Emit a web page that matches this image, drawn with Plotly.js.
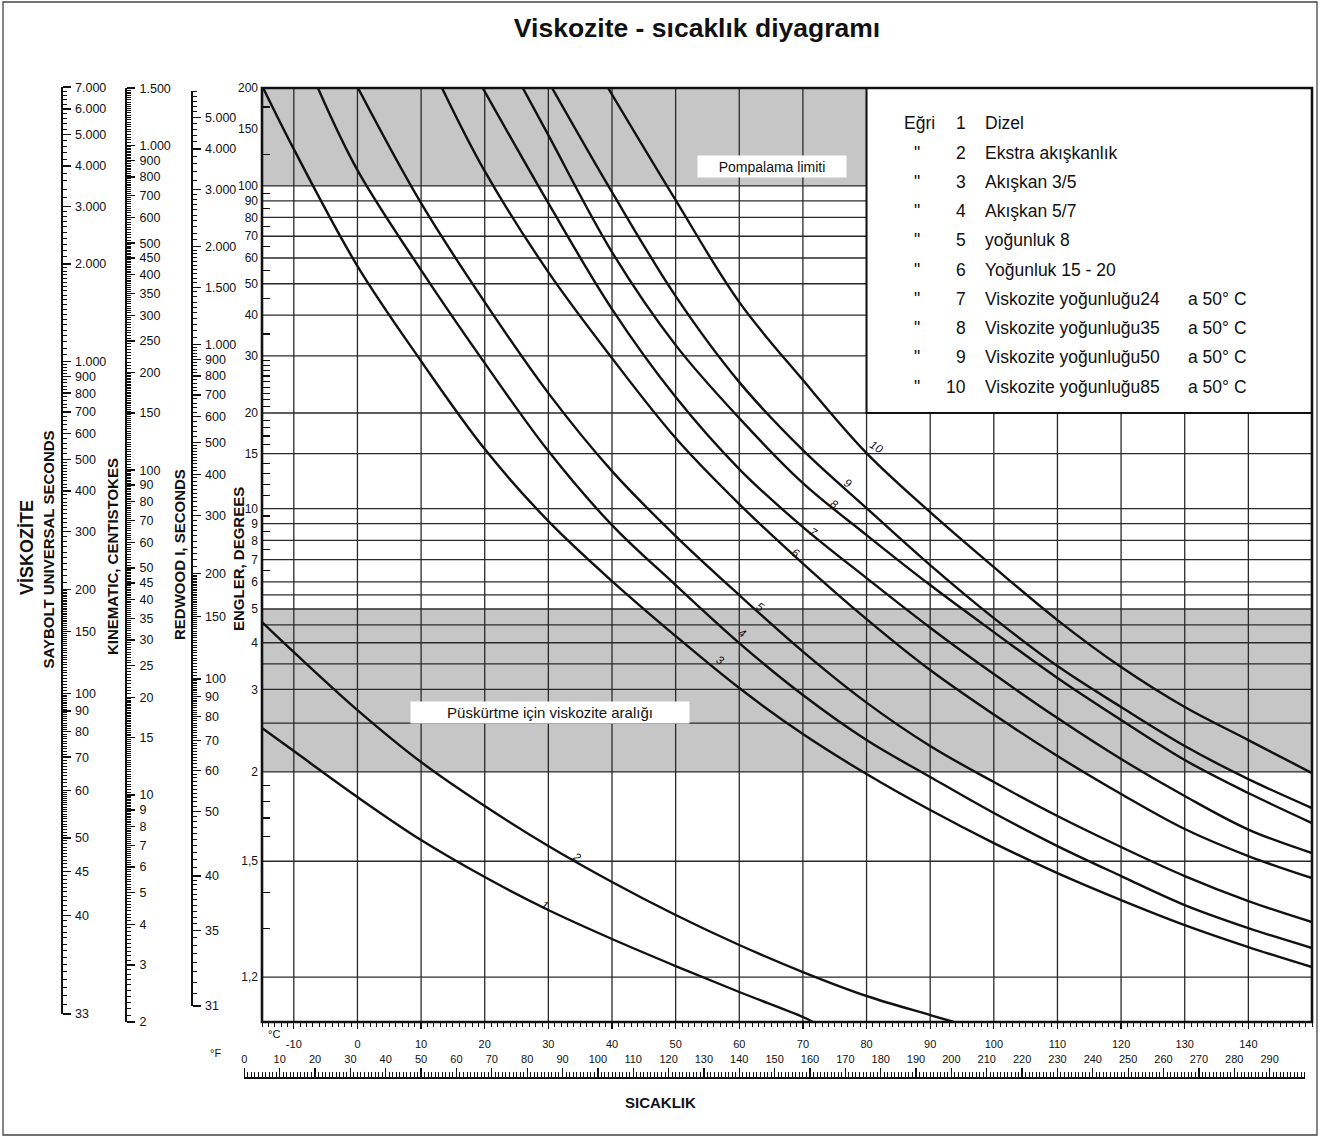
<!DOCTYPE html>
<html>
<head>
<meta charset="utf-8">
<script src="https://cdn.plot.ly/plotly-3.0.1.min.js"></script>
<style>
html,body{margin:0;padding:0;background:#fff;}
#chart{width:1320px;height:1137px;}
</style>
</head>
<body>
<div id="chart"></div>
<script>
// ---------------- DATA ----------------
// Curves: temperature (°C) and kinematic viscosity (cSt)
const CURVE1_TEMP = [-15, -10, 0, 10, 20, 30, 40, 50, 60, 70, 71.6];
const CURVE1_CST  = [16.07, 13.65, 9.855, 7.265, 5.589, 4.424, 3.602, 2.974, 2.474, 2.072, 2.0];
const CURVE2_TEMP = [-15, -10, 0, 10, 20, 30, 40, 50, 60, 70, 80, 90, 93.7];
const CURVE2_CST  = [34.07, 27.54, 18.26, 12.63, 9.245, 6.962, 5.395, 4.270, 3.452, 2.850, 2.405, 2.101, 2.0];
const CURVE3_TEMP = [-14.8, -10, 0, 10, 20, 30, 40, 50, 60, 70, 80, 90, 100, 110, 120, 130, 140, 150];
const CURVE3_CST  = [1500, 973.5, 424.9, 216.7, 116.1, 69.69, 45.56, 30.85, 21.34, 15.40, 11.60, 8.987, 7.112, 5.750, 4.749, 3.977, 3.403, 2.953];
const CURVE4_TEMP = [-6.2, 0, 10, 20, 30, 40, 50, 60, 70, 80, 90, 100, 110, 120, 130, 140, 150];
const CURVE4_CST  = [1500, 838.9, 413.0, 213.6, 114.5, 67.74, 44.29, 29.36, 20.31, 14.76, 11.36, 8.798, 6.962, 5.629, 4.583, 3.893, 3.379];
const CURVE5_TEMP = [0.1, 10, 20, 30, 40, 50, 60, 70, 80, 90, 100, 110, 120, 130, 140, 150];
const CURVE5_CST  = [1500, 663.8, 329.2, 172.7, 99.35, 62.67, 41.25, 27.64, 19.25, 14.15, 10.96, 8.612, 6.914, 5.629, 4.715, 4.063];
const CURVE6_TEMP = [13.3, 20, 30, 40, 50, 60, 70, 80, 90, 100, 110, 120, 130, 140, 150];
const CURVE6_CST  = [1500, 833.0, 407.2, 221.3, 125.6, 78.63, 51.58, 34.79, 24.24, 17.68, 13.18, 10.07, 7.855, 6.486, 5.550];
const CURVE7_TEMP = [19.7, 30, 40, 50, 60, 70, 80, 90, 100, 110, 120, 130, 140, 150];
const CURVE7_CST  = [1500, 663.8, 313.3, 167.9, 100.8, 66.79, 46.54, 32.74, 23.56, 17.25, 12.90, 9.925, 7.827, 6.626];
const CURVE8_TEMP = [26, 30, 40, 50, 60, 70, 80, 90, 100, 110, 120, 130, 140, 150];
const CURVE8_CST  = [1500, 1075, 469.3, 242.7, 144.6, 91.25, 63.12, 44.29, 31.73, 22.91, 17.01, 12.81, 10.14, 8.196];
const CURVE9_TEMP = [30.6, 40, 50, 60, 70, 80, 90, 100, 110, 120, 130, 140, 150];
const CURVE9_CST  = [1500, 717.9, 343.5, 186.7, 115.3, 76.43, 51.03, 35.04, 24.94, 18.65, 14.15, 11.19, 9.115];
const CURVE10_TEMP = [39.4, 50, 60, 70, 80, 90, 100, 110, 120, 130, 140, 150];
const CURVE10_CST  = [1500, 678.1, 329.2, 189.4, 112.9, 74.29, 50.31, 34.55, 24.76, 18.65, 14.76, 11.68];

// curve number labels placed along the curves (°C, cSt)
const CURVE_LABEL_TEMP = [29.5, 34.5, 57.0, 60.4, 63.3, 68.9, 71.6, 74.9, 77.1, 81.6];
const CURVE_LABEL_CST  = [4.60, 6.46, 26.1, 31.6, 38.0, 55.4, 64.7, 78.9, 91.6, 118];

// legend table
const CURVE_NUMBERS = ['1','2','3','4','5','6','7','8','9','10'];
const CURVE_NAMES = ['Dizel','Ekstra akışkanlık','Akışkan 3/5','Akışkan 5/7','yoğunluk 8','Yoğunluk 15 - 20',
  'Viskozite yoğunluğu24','Viskozite yoğunluğu35','Viskozite yoğunluğu50','Viskozite yoğunluğu85'];
const CURVE_NOTES = ['','','','','','','a 50° C','a 50° C','a 50° C','a 50° C'];

// zones in Engler degrees
const PUMP_ZONE_E = [100, 200];
const SPRAY_ZONE_E = [2, 5];

// Engler scale (main axis)
const ENGLER_LABEL_VALUES = [200,150,100,90,80,70,60,50,40,30,20,15,10,9,8,7,6,5,4,3,2,1.5,1.2];
const ENGLER_LABELS = ['200','150','100','90','80','70','60','50','40','30','20','15','10','9','8','7','6','5','4','3','2','1,5','1,2'];
const ENGLER_GRID = [100,90,80,70,60,50,40,30,20,15,10,9,8,7,6,5.5,5,4.5,4,3.5,3,2.5,2,1.5,1.2];
const ENGLER_MINOR = [175,125,95,85,75,65,55,45,35,29,28,27,26,25,24,23,22,21,19,18,17,16,14,13,12,11,9.5,8.5,7.5,6.5,1.9,1.8,1.7,1.6,1.4,1.3];
// Engler <-> cSt conversion table
const ENGLER_TABLE_E   = [1.00,1.14,1.22,1.31,1.40,1.48,1.56,1.65,1.75,1.84,2.02,2.22,2.43,2.65,2.87,3.10,3.46,4.07,4.70,5.33,6.60,7.90,9.20,10.5,13.33];
const ENGLER_TABLE_CST = [1,2,3,4,5,6,7,8,9,10,12,14,16,18,20,22,25,30,35,40,50,60,70,80,100];

// side scales
const SAYBOLT_TICKS = [7000,6000,5000,4000,3000,2000,1000,900,800,700,600,500,400,300,200,150,100,90,80,70,60,50,45,40,33];
const SAYBOLT_LABELS = ['7.000','6.000','5.000','4.000','3.000','2.000','1.000','900','800','700','600','500','400','300','200','150','100','90','80','70','60','50','45','40','33'];
const KINEMATIC_TICKS = [1500,1000,900,800,700,600,500,450,400,350,300,250,200,150,100,90,80,70,60,50,45,40,35,30,25,20,15,10,9,8,7,6,5,4,3,2];
const KINEMATIC_LABELS = ['1.500','1.000','900','800','700','600','500','450','400','350','300','250','200','150','100','90','80','70','60','50','45','40','35','30','25','20','15','10','9','8','7','6','5','4','3','2'];
const REDWOOD_TICKS = [6000,5000,4000,3000,2000,1500,1000,900,800,700,600,500,400,300,200,150,100,90,80,70,60,50,40,35,31];
const REDWOOD_LABELS = ['','5.000','4.000','3.000','2.000','1.500','1.000','900','800','700','600','500','400','300','200','150','100','90','80','70','60','50','40','35','31'];
const SAYBOLT_MINOR_SPEC = [[33,60,0.5],[60,100,1],[100,200,2],[200,500,10],[500,1000,20],[1000,2000,50],[2000,3000,100],[3000,7000,200]];
const KINEMATIC_MINOR_SPEC = [[2,10,0.1],[10,20,0.2],[20,50,0.5],[50,100,1],[100,200,2],[200,500,5],[500,1000,10],[1000,1500,20]];
const REDWOOD_MINOR_SPEC = [[31,40,0.5],[40,100,1],[100,200,2],[200,500,10],[500,1000,20],[1000,2000,50],[2000,3000,100],[3000,6000,200]];

// temperature scales
const C_TICKS = [-10,0,10,20,30,40,50,60,70,80,90,100,110,120,130,140];
const F_TICKS = [0,10,20,30,40,50,60,70,80,90,100,110,120,130,140,150,160,170,180,190,200,210,220,230,240,250,260,270,280,290];

// ---------------- LAYOUT GEOMETRY ----------------
const FONT = 'Liberation Sans, Arial, Helvetica, sans-serif';
const INK = '#111';
const W = 1320, H = 1137, ML = 20, MR = 8, MT = 80, MB = 59;
const PW = W - ML - MR, PH = H - MT - MB;
const X_MIN = -15, X_MAX = 150, Y_MIN = 2.0, Y_MAX = 1502;
const L0 = Math.log10(Y_MIN), L1 = Math.log10(Y_MAX);
const pxX = px => (px - ML) / PW;
const pxY = py => (H - MB - py) / PH;
const xDom = [pxX(262), 1];
const yDom = [pxY(1022), pxY(88)];
const domFrac = v => (Math.log10(v) - L0) / (L1 - L0);
const cstToFrac = v => yDom[0] + domFrac(v) * (yDom[1] - yDom[0]);
const cToPx = c => 262 + (c - X_MIN) / (X_MAX - X_MIN) * 1050;

function englerToCst(E) {
  const n = ENGLER_TABLE_E.length;
  if (E >= ENGLER_TABLE_E[n-1]) return 7.5 * E;
  for (let i = 0; i < n - 1; i++) {
    if (E <= ENGLER_TABLE_E[i+1]) {
      const f = (E - ENGLER_TABLE_E[i]) / (ENGLER_TABLE_E[i+1] - ENGLER_TABLE_E[i]);
      return ENGLER_TABLE_CST[i] + f * (ENGLER_TABLE_CST[i+1] - ENGLER_TABLE_CST[i]);
    }
  }
  return ENGLER_TABLE_CST[0];
}
function cstToSus(v) {
  return 4.6324*v + (1.0 + 0.03264*v) / ((3930.2 + 262.7*v + 23.97*v*v + 1.646*v*v*v) * 1e-5);
}
function susToCst(s) {
  let a = 0.5, b = 5000;
  for (let i = 0; i < 80; i++) { const m = Math.sqrt(a*b); if (cstToSus(m) < s) a = m; else b = m; }
  return Math.sqrt(a*b);
}
const redwoodToCst = r => 0.244 * r - 165 / r;
const kinToCst = k => k;

function rangeTicks(spec) {
  const out = [];
  spec.forEach(([a, b, s]) => { for (let v = a; v <= b + 1e-9; v += s) out.push(+v.toFixed(4)); });
  return out;
}

function sideAxis(ticks, labels, minorSpec, conv, posPx) {
  const vals = ticks.map(conv);
  const lo = Math.min(...vals) / 1.003, hi = Math.max(...vals) * 1.003;
  return {
    type: 'log', anchor: 'free', position: pxX(posPx), side: 'right',
    domain: [cstToFrac(lo), Math.min(1, cstToFrac(hi))],
    range: [Math.log10(lo), Math.log10(hi)],
    showline: true, linewidth: 2, linecolor: INK,
    ticks: 'outside', ticklen: 8, tickwidth: 1.4, tickcolor: INK,
    tickmode: 'array', tickvals: vals, ticktext: labels,
    tickfont: {family: FONT, size: 12.5, color: INK},
    ticklabelstandoff: 2,
    showgrid: false, zeroline: false, fixedrange: true,
    minor: {tickvals: rangeTicks(minorSpec).map(conv), ticks: 'outside', ticklen: 4, tickwidth: 1, tickcolor: INK, showgrid: false}
  };
}

// ---------------- TRACES ----------------
const traces = [];
// horizontal grid lines (Engler values)
const hx = [], hy = [];
ENGLER_GRID.forEach(E => { const v = englerToCst(E); hx.push(X_MIN, X_MAX, null); hy.push(v, v, null); });
traces.push({type:'scatter', mode:'lines', x:hx, y:hy, line:{color:'#2a2a2a', width:1.3}, hoverinfo:'skip', showlegend:false});
// vertical grid lines (°C)
const vx = [], vy = [];
C_TICKS.forEach(c => { vx.push(c, c, null); vy.push(Y_MIN, Y_MAX, null); });
traces.push({type:'scatter', mode:'lines', x:vx, y:vy, line:{color:'#2a2a2a', width:1.3}, hoverinfo:'skip', showlegend:false});

const CURVES = [
  [CURVE1_TEMP, CURVE1_CST],[CURVE2_TEMP, CURVE2_CST],[CURVE3_TEMP, CURVE3_CST],[CURVE4_TEMP, CURVE4_CST],
  [CURVE5_TEMP, CURVE5_CST],[CURVE6_TEMP, CURVE6_CST],[CURVE7_TEMP, CURVE7_CST],[CURVE8_TEMP, CURVE8_CST],
  [CURVE9_TEMP, CURVE9_CST],[CURVE10_TEMP, CURVE10_CST]
];
CURVES.forEach(([t, v], i) => {
  traces.push({type:'scatter', mode:'lines', x:t, y:v, name:CURVE_NUMBERS[i],
    line:{color:INK, width:2.4, shape:'spline', smoothing:1}, hoverinfo:'skip', showlegend:false});
});
// anchor traces so that the extra scales are drawn
['y2','y3','y4'].forEach(ya => traces.push({type:'scatter', mode:'markers', x:[0], y:[10], xaxis:'x', yaxis:ya,
  marker:{opacity:0}, hoverinfo:'skip', showlegend:false}));
traces.push({type:'scatter', mode:'markers', x:[100], y:[10], xaxis:'x2', yaxis:'y', marker:{opacity:0}, hoverinfo:'skip', showlegend:false});

// ---------------- SHAPES ----------------
const shapes = [
  {type:'rect', xref:'x domain', yref:'y domain', x0:0, x1:1, y0:domFrac(englerToCst(PUMP_ZONE_E[0])), y1:1,
   fillcolor:'#c6c6c6', line:{width:0}, layer:'below'},
  {type:'rect', xref:'x domain', yref:'y domain', x0:0, x1:1, y0:domFrac(englerToCst(SPRAY_ZONE_E[0])), y1:domFrac(englerToCst(SPRAY_ZONE_E[1])),
   fillcolor:'#c6c6c6', line:{width:0}, layer:'below'},
  {type:'rect', xref:'x', yref:'y domain', x0:80, x1:X_MAX, y0:domFrac(englerToCst(20)), y1:1,
   fillcolor:'#ffffff', line:{color:INK, width:2}, layer:'above'},
  {type:'rect', xref:'x domain', yref:'y domain', x0:0, x1:1, y0:0, y1:1,
   fillcolor:'rgba(0,0,0,0)', line:{color:INK, width:2.6}, layer:'above'},
  {type:'rect', xref:'paper', yref:'paper', x0:pxX(3), x1:pxX(1317), y0:pxY(1135), y1:pxY(2),
   fillcolor:'rgba(0,0,0,0)', line:{color:'#444', width:1.3}, layer:'above'}
];

// ---------------- ANNOTATIONS ----------------
const annotations = [];
// curve numbers
CURVE_LABEL_TEMP.forEach((t, i) => annotations.push({xref:'x', yref:'y', x:t, y:Math.log10(CURVE_LABEL_CST[i]),
  text:CURVE_NUMBERS[i], showarrow:false, textangle:32,
  font:{family:FONT, size:11.5, color:INK, style:'italic'}}));
// zone labels
annotations.push({xref:'x', yref:'y', x:65.1, y:Math.log10(863), text:'Pompalama limiti', showarrow:false,
  bgcolor:'#ffffff', width:146, height:19, font:{family:FONT, size:14, color:INK}});
annotations.push({xref:'x', yref:'y', x:30.2, y:Math.log10(17.9), text:'Püskürtme için viskozite aralığı', showarrow:false,
  bgcolor:'#ffffff', width:276, height:19, font:{family:FONT, size:15, color:INK}});
// legend table
const legFont = {family:FONT, size:17.5, color:INK};
CURVE_NAMES.forEach((nm, i) => {
  const py = pxY(123.3 + 29.27 * i);
  if (i === 0) annotations.push({xref:'paper', yref:'paper', x:pxX(902), y:py, xanchor:'left', yanchor:'middle', text:'Eğri', showarrow:false, font:legFont});
  else annotations.push({xref:'paper', yref:'paper', x:pxX(917), y:py, xanchor:'center', yanchor:'middle', text:'"', showarrow:false, font:legFont});
  annotations.push({xref:'paper', yref:'paper', x:pxX(968), y:py, xanchor:'right', yanchor:'middle', text:CURVE_NUMBERS[i], showarrow:false, font:legFont});
  annotations.push({xref:'paper', yref:'paper', x:pxX(983), y:py, xanchor:'left', yanchor:'middle', text:nm, showarrow:false, font:legFont});
  if (CURVE_NOTES[i]) annotations.push({xref:'paper', yref:'paper', x:pxX(1186), y:py, xanchor:'left', yanchor:'middle', text:CURVE_NOTES[i], showarrow:false, font:legFont});
});
// axis titles
const AXIS_TITLES = [
  ['VİSKOZİTE', 27, 548, 18],
  ['SAYBOLT UNIVERSAL SECONDS', 47.5, 550, 15],
  ['KINEMATIC, CENTISTOKES', 112, 557, 15],
  ['REDWOOD I, SECONDS', 179, 555, 15],
  ['ENGLER, DEGREES', 238, 559, 15]
];
AXIS_TITLES.forEach(([t, x, y, s]) => annotations.push({xref:'paper', yref:'paper', x:pxX(x), y:pxY(y), xanchor:'center', yanchor:'middle',
  text:'<b>' + t + '</b>', textangle:-90, showarrow:false, font:{family:FONT, size:s, color:INK}}));
annotations.push({xref:'paper', yref:'paper', x:pxX(660), y:pxY(1113), text:'<b>SICAKLIK</b>', showarrow:false, font:{family:FONT, size:15, color:INK}});
annotations.push({xref:'paper', yref:'paper', x:pxX(266), y:pxY(1042), text:'°C', showarrow:false, font:{family:FONT, size:11, color:INK}});
annotations.push({xref:'paper', yref:'paper', x:pxX(208), y:pxY(1061), text:'°F', showarrow:false, font:{family:FONT, size:11, color:INK}});

// ---------------- LAYOUT ----------------
const fDom = [pxX(cToPx((0 - 32) / 1.8)), pxX(cToPx((300 - 32) / 1.8))];
const layout = {
  width: W, height: H,
  margin: {l: ML, r: MR, t: MT, b: MB, pad: 0},
  paper_bgcolor: '#ffffff', plot_bgcolor: 'rgba(0,0,0,0)',
  font: {family: FONT, color: INK},
  showlegend: false,
  title: {text: '<b>Viskozite - sıcaklık diyagramı</b>', font: {family: FONT, size: 26.5, color: INK},
          x: 697 / W, xref: 'container', xanchor: 'center', y: 1 - 28 / H, yref: 'container', yanchor: 'middle'},
  xaxis: {
    domain: xDom, range: [X_MIN, X_MAX], anchor: 'y', showline: false, showgrid: false, zeroline: false,
    ticks: 'outside', ticklen: 6, tickwidth: 1.3, tickcolor: INK,
    tickmode: 'array', tickvals: C_TICKS, ticktext: C_TICKS.map(String),
    tickfont: {family: FONT, size: 11, color: INK}, ticklabelstandoff: 6,
    minor: {tickvals: rangeTicks([[X_MIN, X_MAX, 1]]), ticks: 'outside', ticklen: 4, tickwidth: 1, tickcolor: INK, showgrid: false}
  },
  xaxis2: {
    domain: fDom, range: [0, 300], anchor: 'free', position: 0, side: 'top',
    showline: true, linewidth: 2, linecolor: INK, showgrid: false, zeroline: false,
    ticks: 'outside', ticklen: 9, tickwidth: 1.3, tickcolor: INK,
    tickmode: 'array', tickvals: F_TICKS, ticktext: F_TICKS.map(String),
    tickfont: {family: FONT, size: 11, color: INK}, ticklabelstandoff: 1,
    minor: {tickvals: rangeTicks([[0, 300, 1]]), ticks: 'outside', ticklen: 5, tickwidth: 1, tickcolor: INK, showgrid: false}
  },
  yaxis: {
    type: 'log', domain: yDom, range: [L0, L1], anchor: 'x', showline: false, showgrid: false, zeroline: false,
    ticks: '', tickmode: 'array', tickvals: ENGLER_LABEL_VALUES.map(englerToCst), ticktext: ENGLER_LABELS,
    tickfont: {family: FONT, size: 12, color: INK}, ticklabelstandoff: 3,
    minor: {tickvals: ENGLER_MINOR.map(englerToCst), ticks: 'inside', ticklen: 8, tickwidth: 1.2, tickcolor: INK, showgrid: false}
  },
  yaxis2: sideAxis(SAYBOLT_TICKS, SAYBOLT_LABELS, SAYBOLT_MINOR_SPEC, susToCst, 61.5),
  yaxis3: sideAxis(KINEMATIC_TICKS, KINEMATIC_LABELS, KINEMATIC_MINOR_SPEC, kinToCst, 126),
  yaxis4: sideAxis(REDWOOD_TICKS, REDWOOD_LABELS, REDWOOD_MINOR_SPEC, redwoodToCst, 191.5),
  shapes: shapes,
  annotations: annotations
};

Plotly.newPlot('chart', traces, layout, {staticPlot: true, displayModeBar: false});
</script>
</body>
</html>
